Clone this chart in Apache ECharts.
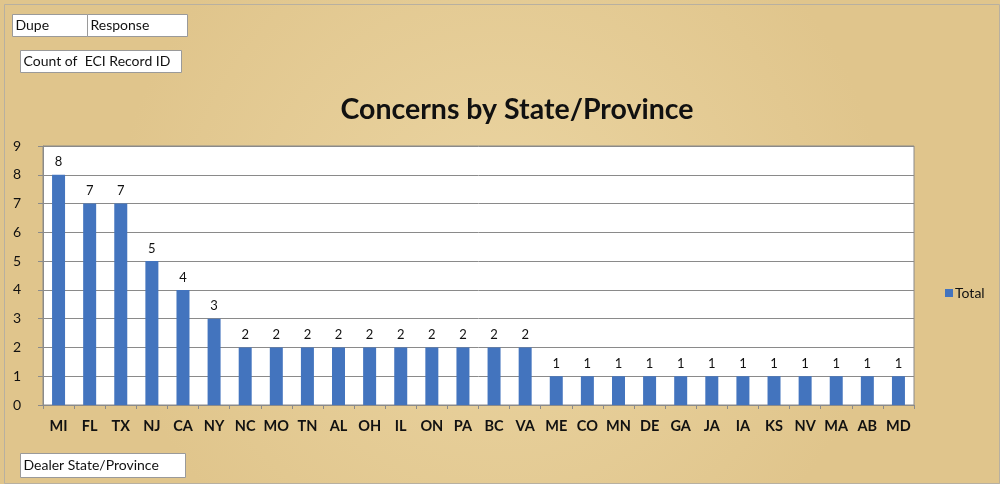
<!DOCTYPE html>
<html>
<head>
<meta charset="utf-8">
<script src="https://cdn.jsdelivr.net/npm/echarts@6/dist/echarts.min.js"></script>
<style>html,body{margin:0;padding:0;}#c{width:1000px;height:484px;}</style>
</head>
<body>
<div id="c"></div>
<script>
const categories = ['MI','FL','TX','NJ','CA','NY','NC','MO','TN','AL','OH','IL','ON','PA','BC','VA','ME','CO','MN','DE','GA','JA','IA','KS','NV','MA','AB','MD'];
const totals = [8,7,7,5,4,3,2,2,2,2,2,2,2,2,2,2,1,1,1,1,1,1,1,1,1,1,1,1];
const yTicks = [0,1,2,3,4,5,6,7,8,9];

const FONT = 'Lato, "Open Sans", sans-serif';
const chart = echarts.init(document.getElementById('c'));

function box(x, y, w, h, text) {
  return {
    type: 'group', left: x, top: y,
    children: [
      { type: 'rect', shape: { x: 0, y: 0, width: w, height: h }, style: { fill: '#ffffff', stroke: '#9a9a9a', lineWidth: 1 } },
      { type: 'text', style: { x: 3, y: h / 2, text: text, fill: '#111', font: '14px ' + FONT, verticalAlign: 'middle' } }
    ]
  };
}

chart.setOption({
  backgroundColor: {
    type: 'radial', x: 0.5, y: 0.5, r: 0.8,
    colorStops: [{ offset: 0, color: '#ebd5a2' }, { offset: 1, color: '#e0c58c' }]
  },
  animation: false,
  title: {
    text: 'Concerns by State/Province',
    left: 512, top: 90, textAlign: 'center',
    textStyle: { fontFamily: FONT, fontSize: 28.5, fontWeight: 'bold', color: '#111' }
  },
  legend: {
    data: ['Total'], orient: 'vertical', left: 940, top: 281,
    itemWidth: 8, itemHeight: 8, itemGap: 4, icon: 'rect',
    textStyle: { fontFamily: FONT, fontSize: 14, color: '#111', padding: [0, 0, 0, -3] }
  },
  grid: { left: 43, right: 86, top: 146, bottom: 79, show: true, backgroundColor: '#ffffff', borderColor: '#8a8a8a', borderWidth: 1 },
  xAxis: {
    type: 'category', data: categories,
    axisLine: { lineStyle: { color: '#8a8a8a', width: 1 } },
    axisTick: { show: true, length: 4, lineStyle: { color: '#8a8a8a' } },
    axisLabel: { interval: 0, hideOverlap: false, fontFamily: FONT, fontSize: 14.5, fontWeight: 'bold', color: '#111', margin: 14 }
  },
  yAxis: {
    type: 'value', min: 0, max: 9, interval: 1,
    axisLine: { show: true, lineStyle: { color: '#8a8a8a' } },
    axisTick: { show: true, length: 5, lineStyle: { color: '#8a8a8a' } },
    axisLabel: { fontFamily: FONT, fontSize: 14, color: '#111', margin: 22, formatter: v => yTicks.includes(v) ? String(v) : '' },
    splitLine: { lineStyle: { color: '#8a8a8a', width: 1 } }
  },
  series: [{
    name: 'Total', type: 'bar', data: totals, barWidth: 13,
    itemStyle: { color: '#4374be' },
    label: { show: true, position: 'top', distance: 6, fontFamily: FONT, fontSize: 13, color: '#111' }
  }],
  graphic: [
    { type: 'rect', left: 2, top: 2, shape: { width: 995, height: 479 }, style: { fill: 'none', stroke: '#b8b0a0', lineWidth: 1 } },
    box(12, 14, 75, 22, 'Dupe'),
    box(87, 14, 100, 22, 'Response'),
    box(20, 50, 161, 22, 'Count of  ECI Record ID'),
    box(20, 453, 165, 24, 'Dealer State/Province')
  ]
});
</script>
</body>
</html>
